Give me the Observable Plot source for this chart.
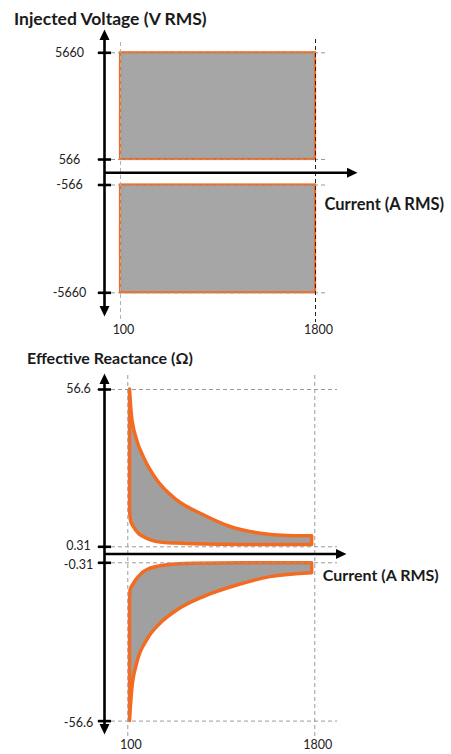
<!DOCTYPE html>
<html><head><meta charset="utf-8">
<script src="https://cdn.jsdelivr.net/npm/d3@7"></script>
<script src="https://cdn.jsdelivr.net/npm/@observablehq/plot@0.6"></script>
<style>
body{margin:0;background:#fff;}
#wrap{position:relative;width:451px;height:754px;overflow:hidden;font-family:Lato,sans-serif;background:#fff;}
.title{position:absolute;font-weight:700;color:#1a1a1a;white-space:nowrap;line-height:1;}
.panel{position:absolute;left:0;}
</style></head><body>
<div id="wrap">
<div class="title" style="left:14px;top:10px;font-size:17.5px">Injected Voltage (V RMS)</div>
<div class="panel" id="p1" style="top:26px"></div>
<div class="title" style="left:27px;top:350px;font-size:16px">Effective Reactance (Ω)</div>
<div class="panel" id="p2" style="top:366px"></div>
</div>
<script>
// ---- data ----
const currentTicks = [100, 1800];
const currentLabels = ["100", "1800"];
const voltageTicks = [5660, 566, -566, -5660];
const voltageLabels = ["5660", "566", "-566", "-5660"];
const voltageBandLow = [566, -566];
const voltageBandHigh = [5660, -5660];
const reactanceTicks = [56.6, 0.31, -0.31, -56.6];
const reactanceLabels = ["56.6", "0.31", "-0.31", "-56.6"];
const xAxisTitle = "Current (A RMS)";

// upper reactance region (positive): outer and inner boundaries
const posOuterI = [120, 136, 185, 245, 367, 549, 791, 1034, 1306, 1549, 1776];
const posOuterX = [56.6, 47.9, 38.4, 32.4, 24.1, 16.9, 11.6, 7.4, 5.0, 4.2, 4.1];
const posInnerI = [120, 128, 155, 200, 245, 397, 549, 700, 1152, 1458, 1776];
const posInnerX = [13.4, 9.8, 7.4, 5.0, 3.8, 1.8, 1.45, 1.2, 0.95, 0.95, 0.95];
// lower reactance region (negative)
const negOuterI = [120, 140, 185, 276, 397, 549, 791, 1095, 1397, 1776];
const negOuterX = [-56.6, -45.7, -36.2, -27.9, -22.0, -17.3, -12.5, -8.4, -5.4, -4.0];
const negInnerI = [120, 125, 155, 200, 245, 397, 700, 1155, 1450, 1776];
const negInnerX = [-13.7, -10.2, -7.8, -5.4, -3.65, -1.5, -0.67, -0.45, -0.45, -0.45];

// ---- helpers ----
const orange = "#f26b21";
const hLine = {draw(ctx, size) { const r = Math.sqrt(size / Math.PI); ctx.moveTo(-r, 0); ctx.lineTo(r, 0); }};
const arrowHead = {draw(ctx, size) { const r = Math.sqrt(size / Math.PI); ctx.moveTo(0, 0); ctx.lineTo(-r, 2.1 * r); ctx.lineTo(r, 2.1 * r); ctx.closePath(); }};
const region = (oI, oX, iI, iX) => oI.map((c, k) => ({oi: c, ox: oX[k], ii: iI[k], ix: iX[k]}));
// broken (schematic) axes: piecewise-linear transform into screen space, then an identity-like linear scale
function brokenScale(domain, range, size) {
  const f = d3.scaleLinear().domain(domain).range(range);
  return {type: "linear", transform: (v) => f(v), domain: [0, size], range: [0, size], axis: null};
}

function axesMarks(o) {
  return [
    Plot.ruleX([0], {x: d => d, stroke: "#000", strokeWidth: 2.6, insetTop: o.lineTop, insetBottom: o.lineBottom}),
    Plot.ruleY([0], {y: d => d, x1: 0, x2: currentTicks[1], stroke: "#000", strokeWidth: 2.6, insetRight: o.lineRight}),
    Plot.dot([0], {x: d => d, frameAnchor: "top", dy: o.tipTop, symbol: arrowHead, r: 5, fill: "#000", stroke: "none"}),
    Plot.dot([0], {x: d => d, frameAnchor: "bottom", dy: o.tipBottom, rotate: 180, symbol: arrowHead, r: 5, fill: "#000", stroke: "none"}),
    Plot.dot([0], {y: d => d, frameAnchor: "right", dx: o.tipRight, rotate: 90, symbol: arrowHead, r: 5, fill: "#000", stroke: "none"}),
    Plot.dot(o.yTicks, {x: 0, y: d => d, symbol: hLine, r: 6.5, stroke: "#000", strokeWidth: 2.6, fill: "none"})
  ];
}

// ---- panel 1 ----
const bands = voltageBandLow.map((lo, k) => ({lo, hi: voltageBandHigh[k]}));
const p1 = Plot.plot({
  width: 451, height: 314,
  marginLeft: 97, marginRight: 125, marginTop: 16, marginBottom: 19,
  x: brokenScale([0, 100, 1800], [104, 120, 315], 451),
  y: brokenScale([-5660, -566, 0, 566, 5660], [266.3, 158.5, 146.3, 133, 26.3], 314),
  style: {fontFamily: "Lato, sans-serif", fontSize: "12.5px", color: "#222", background: "transparent"},
  marks: [
    Plot.rect(bands, {x1: () => currentTicks[0], x2: () => currentTicks[1], y1: "lo", y2: "hi", fill: "#a6a6a6", stroke: orange, strokeWidth: 2.2}),
    Plot.ruleY(voltageTicks, {y: d => d, stroke: "#9a9a9a", strokeWidth: 1, strokeDasharray: "4,3"}),
    Plot.ruleX([currentTicks[0]], {x: d => d, stroke: "#b0b0b0", strokeWidth: 1, strokeDasharray: "4,3"}),
    Plot.ruleX([currentTicks[1]], {x: d => d, stroke: "#222", strokeWidth: 1, strokeDasharray: "4,3", insetTop: -3, insetBottom: -1}),
    ...axesMarks({yTicks: voltageTicks, lineTop: -8, lineBottom: 10, lineRight: -37, tipTop: -13, tipBottom: -5, tipRight: 31}),
    Plot.text(voltageTicks, {x: 0, y: d => d, text: (d, k) => voltageLabels[k], dx: -35, textAnchor: "middle", fill: "#222"}),
    Plot.text(currentTicks, {x: d => d, text: (d, k) => currentLabels[k], frameAnchor: "bottom", dy: 12.5, dx: 3, fill: "#222"}),
    Plot.text([xAxisTitle], {x: () => currentTicks[1], y: () => 0, text: d => d, dx: 9, dy: 32, textAnchor: "start", fontWeight: "bold", fontSize: 16.5, fill: "#1a1a1a"})
  ]
});
document.getElementById("p1").append(p1);

// ---- panel 2 ----
const posRegion = region(posOuterI, posOuterX, posInnerI, posInnerX);
const negRegion = region(negOuterI, negOuterX, negInnerI, negInnerX);
const regionStyle = {x1: "oi", y1: "ox", x2: "ii", y2: "ix", fill: "#a0a0a0", stroke: orange, strokeWidth: 3.5, curve: "monotone-x", strokeLinejoin: "round"};
const p2 = Plot.plot({
  width: 451, height: 388,
  marginLeft: 97, marginRight: 114, marginTop: 9, marginBottom: 17,
  x: brokenScale([0, 100, 1800], [104, 127.3, 314.3], 451),
  y: brokenScale([-56.6, -0.31, 0, 0.31, 56.6], [354.6, 196.3, 187.5, 180.3, 23], 388),
  style: {fontFamily: "Lato, sans-serif", fontSize: "12.5px", color: "#222", background: "transparent"},
  marks: [
    Plot.area(posRegion, regionStyle),
    Plot.area(negRegion, regionStyle),
    Plot.ruleY(reactanceTicks, {y: d => d, stroke: "#9a9a9a", strokeWidth: 1, strokeDasharray: "4,3"}),
    Plot.ruleX(currentTicks, {x: d => d, stroke: "#9a9a9a", strokeWidth: 1, strokeDasharray: "4,3"}),
    ...axesMarks({yTicks: reactanceTicks, lineTop: 3, lineBottom: 8, lineRight: -27, tipTop: -2, tipBottom: -3, tipRight: 9}),
    Plot.text(reactanceTicks.filter(d => d > 0), {x: 0, y: d => d, text: d => reactanceLabels[reactanceTicks.indexOf(d)], dx: -26, dy: -1, textAnchor: "middle", fill: "#222"}),
    Plot.text(reactanceTicks.filter(d => d < 0), {x: 0, y: d => d, text: d => reactanceLabels[reactanceTicks.indexOf(d)], dx: -26, dy: 2, textAnchor: "middle", fill: "#222"}),
    Plot.text(currentTicks, {x: d => d, text: (d, k) => currentLabels[k], frameAnchor: "bottom", dy: 11, dx: 3, fill: "#222"}),
    Plot.text([xAxisTitle], {x: () => currentTicks[1], y: () => 0, text: d => d, dx: 8, dy: 22, textAnchor: "start", fontWeight: "bold", fontSize: 16, fill: "#1a1a1a"})
  ]
});
document.getElementById("p2").append(p2);
</script>
</body></html>
